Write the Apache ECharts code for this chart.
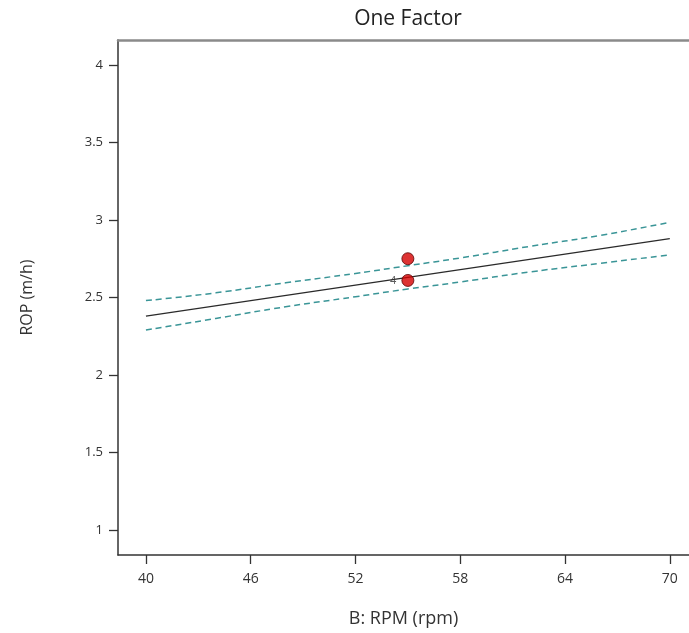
<!DOCTYPE html>
<html>
<head>
<meta charset="utf-8">
<script src="https://cdn.jsdelivr.net/npm/echarts@6/dist/echarts.min.js"></script>
<style>
  html, body { margin: 0; padding: 0; background: #fff; }
  #chart { width: 689px; height: 633px; }
</style>
</head>
<body>
<div id="chart"></div>
<script>
// fitted line (straight)
const lineX = [40, 70]
const lineY = [2.38, 2.88]

// confidence band
const bandX = [40, 44, 48, 52, 55, 58, 62, 66, 70]
const upperY = [2.48, 2.53, 2.595, 2.655, 2.705, 2.755, 2.83, 2.9, 2.985]
const lowerY = [2.29, 2.365, 2.44, 2.505, 2.555, 2.6, 2.665, 2.72, 2.775]

// design points
const pointX = [55, 55]
const pointY = [2.75, 2.61]
const pointNote = ['', '4']

const xTicks = [40, 46, 52, 58, 64, 70]
const yTicks = [1, 1.5, 2, 2.5, 3, 3.5, 4]

const font = '"Open Sans", "Noto Sans", sans-serif'
const zip = (xs, ys) => xs.map((x, i) => [x, ys[i]])

const chart = echarts.init(document.getElementById('chart'))

const dashStyle = {
  color: '#3a9597',
  width: 1.5,
  type: [6, 4]
}

const option = {
  animation: false,
  title: {
    text: 'One Factor',
    left: 403,
    textAlign: 'center',
    top: 4,
    textStyle: { fontFamily: font, fontSize: 21, fontWeight: 'normal', color: '#222' }
  },
  grid: { left: 118, top: 40, right: 0, bottom: 78, outerBoundsMode: 'none' },
  xAxis: [
    {
      type: 'value',
      min: 38.4,
      max: 71.1,
      name: 'B: RPM (rpm)',
      nameLocation: 'middle',
      nameGap: 55,
      nameTextStyle: { fontFamily: font, fontSize: 18, color: '#333' },
      splitLine: { show: false },
      axisLine: { lineStyle: { color: '#333', width: 1.5 } },
      axisTick: { customValues: xTicks, length: 9, lineStyle: { color: '#333', width: 1.3 } },
      axisLabel: { customValues: xTicks, margin: 17, fontFamily: font, fontSize: 14, color: '#333' }
    },
    {
      type: 'value',
      position: 'top',
      min: 38.4,
      max: 71.1,
      splitLine: { show: false },
      axisLine: { show: true, lineStyle: { color: '#8a8a8a', width: 2.5 } },
      axisTick: { show: false },
      axisLabel: { show: false }
    }
  ],
  yAxis: {
    type: 'value',
    min: 0.84,
    max: 4.16,
    name: 'ROP (m/h)',
    nameLocation: 'middle',
    nameGap: 83,
    nameTextStyle: { fontFamily: font, fontSize: 16, color: '#333' },
    splitLine: { show: false },
    axisLine: { show: true, lineStyle: { color: '#333', width: 1.5 } },
    axisTick: { show: true, customValues: yTicks, length: 9, lineStyle: { color: '#333', width: 1.3 } },
    axisLabel: {
      customValues: yTicks,
      margin: 15,
      fontFamily: font,
      fontSize: 13,
      color: '#333',
      formatter: v => String(v)
    }
  },
  series: [
    {
      type: 'line',
      data: zip(bandX, upperY),
      symbol: 'none',
      smooth: true,
      lineStyle: dashStyle
    },
    {
      type: 'line',
      data: zip(bandX, lowerY),
      symbol: 'none',
      smooth: true,
      lineStyle: dashStyle
    },
    {
      type: 'line',
      data: zip(lineX, lineY),
      symbol: 'none',
      lineStyle: { color: '#2a2a2a', width: 1.3 }
    },
    {
      type: 'scatter',
      data: pointX.map((x, i) => ({
        value: [x, pointY[i]],
        label: {
          show: pointNote[i] !== '',
          formatter: pointNote[i],
          position: 'left',
          distance: 5,
          fontFamily: font,
          fontSize: 11,
          color: '#333'
        }
      })),
      symbolSize: 12,
      itemStyle: { color: '#d40000', borderColor: '#5a0000', borderWidth: 1 },
      z: 5
    }
  ]
}

chart.setOption(option)
</script>
</body>
</html>
